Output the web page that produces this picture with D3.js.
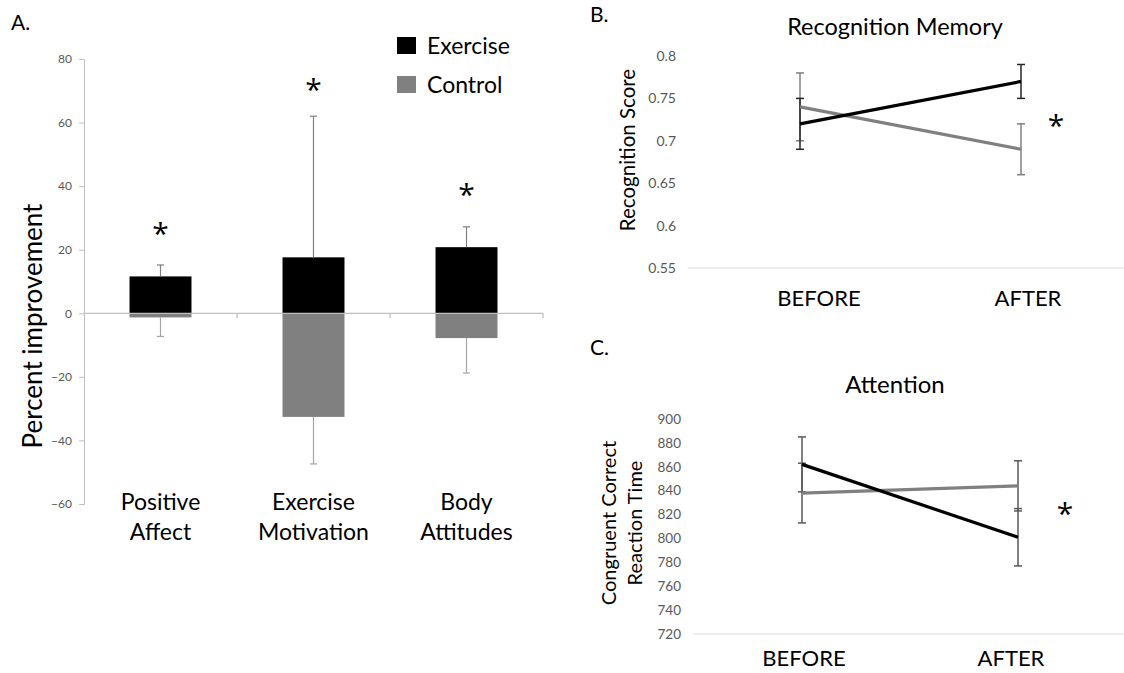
<!DOCTYPE html>
<html>
<head>
<meta charset="utf-8">
<script src="https://cdn.jsdelivr.net/npm/d3@7"></script>
<style>
  html, body { margin: 0; padding: 0; background: #fff; }
  svg { display: block; font-family: Lato, "Open Sans", sans-serif; }
</style>
</head>
<body>
<svg id="chart" width="1124" height="673"></svg>
<script>
// Panel A: percent improvement
const categories = ["Positive Affect", "Exercise Motivation", "Body Attitudes"];
const categoryLines = [["Positive", "Affect"], ["Exercise", "Motivation"], ["Body", "Attitudes"]];
const exerciseImprovement = [11.6, 17.6, 20.8];
const exerciseError = [3.6, 44.4, 6.4];
const controlImprovement = [-1.3, -32.6, -7.8];
const controlError = [6.0, 14.8, 11.0];
const improvementStars = [true, true, true];
const percentTicks = [-60, -40, -20, 0, 20, 40, 60, 80];

// Panel B: recognition memory
const timepoints = ["BEFORE", "AFTER"];
const recognitionExercise = [0.72, 0.77];
const recognitionExerciseErr = [0.03, 0.02];
const recognitionControl = [0.74, 0.69];
const recognitionControlErr = [0.04, 0.03];
const recognitionTicks = [0.55, 0.6, 0.65, 0.7, 0.75, 0.8];

// Panel C: attention
const attentionExercise = [862, 801];
const attentionExerciseErr = [23, 24];
const attentionControl = [838, 844];
const attentionControlErr = [25, 21];
const attentionTicks = [720, 740, 760, 780, 800, 820, 840, 860, 880, 900];

const BLACK = "#000000";
const GREY = "#808080";
const AXIS = "#bfbfbf";
const TICK_TEXT = "#595959";

const svg = d3.select("#chart");

// asterisk centred on (x, y)
function star(x, y, size) {
    svg.append("text")
        .attr("x", x)
        .attr("y", y + size * 0.47)
        .attr("text-anchor", "middle")
        .style("font-family", "'Open Sans', sans-serif")
        .style("font-size", size + "px")
        .style("fill", BLACK)
        .text("*");
}

// ---------- A. bars ----------
const xA = d3.scaleBand().domain(categories).range([84, 543])
    .paddingInner(0.595).paddingOuter(0.2975);
const yA = d3.scaleLinear().domain([-60, 80]).range([504, 59]);

svg.append("text").attr("x", 11).attr("y", 30)
    .style("font-size", "21px").text("A.");

const axA = svg.append("g").attr("transform", "translate(84,0)")
    .call(d3.axisLeft(yA).tickValues(percentTicks).tickSize(5).tickPadding(7));
axA.select(".domain").attr("stroke", AXIS);
axA.selectAll(".tick line").attr("stroke", AXIS);
axA.selectAll(".tick text").attr("fill", TICK_TEXT).style("font-size", "12px")
    .style("font-family", "Lato, sans-serif");

svg.append("text")
    .attr("transform", `translate(42,${yA(-4)}) rotate(-90)`)
    .attr("text-anchor", "middle")
    .style("font-size", "26px")
    .text("Percent improvement");

const barsA = svg.append("g");
categories.forEach((c, i) => {
    const x0 = xA(c);
    const bw = xA.bandwidth();
    const cx = x0 + bw / 2;
    // control (negative) bar
    barsA.append("rect")
        .attr("x", x0).attr("width", bw)
        .attr("y", yA(Math.max(0, controlImprovement[i])))
        .attr("height", Math.abs(yA(controlImprovement[i]) - yA(0)))
        .attr("fill", GREY);
    // exercise bar
    barsA.append("rect")
        .attr("x", x0).attr("width", bw)
        .attr("y", yA(Math.max(0, exerciseImprovement[i])))
        .attr("height", Math.abs(yA(exerciseImprovement[i]) - yA(0)))
        .attr("fill", BLACK);
    // error bars
    const eTop = exerciseImprovement[i] + exerciseError[i];
    const cBot = controlImprovement[i] - controlError[i];
    barsA.append("line").attr("x1", cx).attr("x2", cx)
        .attr("y1", yA(exerciseImprovement[i])).attr("y2", yA(eTop))
        .attr("stroke", GREY).attr("stroke-width", 1.2);
    barsA.append("line").attr("x1", cx - 3.5).attr("x2", cx + 3.5)
        .attr("y1", yA(eTop)).attr("y2", yA(eTop))
        .attr("stroke", GREY).attr("stroke-width", 1.2);
    barsA.append("line").attr("x1", cx).attr("x2", cx)
        .attr("y1", yA(controlImprovement[i])).attr("y2", yA(cBot))
        .attr("stroke", "#a6a6a6").attr("stroke-width", 1.2);
    barsA.append("line").attr("x1", cx - 3.5).attr("x2", cx + 3.5)
        .attr("y1", yA(cBot)).attr("y2", yA(cBot))
        .attr("stroke", "#a6a6a6").attr("stroke-width", 1.2);

    categoryLines[i].forEach((t, k) => {
        svg.append("text")
            .attr("x", cx).attr("y", 510 + k * 30)
            .attr("text-anchor", "middle")
            .style("font-size", "23px")
            .text(t);
    });
});

// zero line with category ticks
svg.append("line")
    .attr("x1", 84).attr("x2", 543)
    .attr("y1", yA(0)).attr("y2", yA(0))
    .attr("stroke", AXIS).attr("stroke-width", 1.3);
const bounds = [xA.range()[0] + xA.step(), xA.range()[0] + 2 * xA.step(), xA.range()[1]];
bounds.forEach(bx => {
    svg.append("line").attr("x1", bx).attr("x2", bx)
        .attr("y1", yA(0)).attr("y2", yA(0) + 5)
        .attr("stroke", AXIS).attr("stroke-width", 1.3);
});

// stars above exercise error bars
const starY = [230, 86, 191];
categories.forEach((c, i) => {
    if (improvementStars[i]) star(xA(c) + xA.bandwidth() / 2, starY[i], 30);
});

// legend
const legendA = svg.append("g").attr("transform", "translate(397,37)");
[["Exercise", BLACK], ["Control", GREY]].forEach(([name, col], i) => {
    legendA.append("rect").attr("x", 0).attr("y", i * 39)
        .attr("width", 19).attr("height", 17).attr("fill", col);
    legendA.append("text").attr("x", 30).attr("y", i * 39 + 17)
        .style("font-size", "23px").text(name);
});

// ---------- line panels ----------
function linePanel(opts) {
    const y = d3.scaleLinear().domain(opts.domain).range(opts.range);
    const x = d3.scalePoint().domain(timepoints).range(opts.pointRange);
    const xl = d3.scalePoint().domain(timepoints).range(opts.labelRange);

    svg.append("text").attr("x", 590).attr("y", opts.letterY)
        .style("font-size", "21px").text(opts.letter);
    svg.append("text").attr("x", 895).attr("y", opts.titleY)
        .attr("text-anchor", "middle").style("font-size", opts.titleSize).text(opts.title);

    const ax = svg.append("g").attr("transform", `translate(${opts.tickRight},0)`)
        .call(d3.axisLeft(y).tickValues(opts.ticks).tickSize(0).tickPadding(0)
            .tickFormat(opts.format));
    ax.select(".domain").remove();
    ax.selectAll(".tick text").attr("fill", TICK_TEXT)
        .style("font-size", opts.tickSize).style("font-family", "Lato, sans-serif");

    svg.append("line")
        .attr("x1", opts.baseStart).attr("x2", 1124)
        .attr("y1", y(opts.domain[0])).attr("y2", y(opts.domain[0]))
        .attr("stroke", "#d9d9d9").attr("stroke-width", 1.2);

    opts.yTitle.forEach((t, k) => {
        svg.append("text")
            .attr("transform", `translate(${opts.yTitleX[k]},${opts.yTitleY}) rotate(-90)`)
            .attr("text-anchor", "middle")
            .style("font-size", opts.yTitleSize)
            .text(t);
    });

    timepoints.forEach(t => {
        svg.append("text").attr("x", xl(t)).attr("y", opts.labelY)
            .attr("text-anchor", "middle").style("font-size", "22px").text(t);
    });

    const line = d3.line().x((d, i) => x(timepoints[i])).y(d => y(d));
    opts.series.forEach(s => {
        s.values.forEach((v, i) => {
            const cx = x(timepoints[i]);
            const lo = v - s.err[i], hi = v + s.err[i];
            const g = svg.append("g").attr("stroke", s.errColor).attr("stroke-width", 1.5);
            g.append("line").attr("x1", cx).attr("x2", cx).attr("y1", y(lo)).attr("y2", y(hi));
            g.append("line").attr("x1", cx - 4).attr("x2", cx + 4).attr("y1", y(lo)).attr("y2", y(lo));
            g.append("line").attr("x1", cx - 4).attr("x2", cx + 4).attr("y1", y(hi)).attr("y2", y(hi));
        });
    });
    opts.series.forEach(s => {
        svg.append("path").datum(s.values)
            .attr("d", line).attr("fill", "none")
            .attr("stroke", s.color).attr("stroke-width", 3.2);
    });
    star(opts.star[0], opts.star[1], 30);
}

linePanel({
    letter: "B.", letterY: 22,
    title: "Recognition Memory", titleY: 35, titleSize: "23.5px",
    domain: [0.55, 0.8], range: [268, 56],
    ticks: recognitionTicks, format: d => String(d), tickSize: "14px",
    tickRight: 676, baseStart: 688,
    pointRange: [800, 1021], labelRange: [819, 1028], labelY: 306,
    yTitle: ["Recognition Score"], yTitleX: [635], yTitleY: 150, yTitleSize: "20.5px",
    series: [
        { values: recognitionControl, err: recognitionControlErr, color: GREY, errColor: GREY },
        { values: recognitionExercise, err: recognitionExerciseErr, color: BLACK, errColor: "#262626" }
    ],
    star: [1056, 122]
});

linePanel({
    letter: "C.", letterY: 355,
    title: "Attention", titleY: 393, titleSize: "24px",
    domain: [720, 900], range: [634, 419],
    ticks: attentionTicks, format: d => String(d), tickSize: "13.5px",
    tickRight: 681, baseStart: 693,
    pointRange: [802, 1018], labelRange: [804, 1011], labelY: 666,
    yTitle: ["Congruent Correct", "Reaction Time"], yTitleX: [616, 642], yTitleY: 523, yTitleSize: "20px",
    series: [
        { values: attentionControl, err: attentionControlErr, color: GREY, errColor: "#595959" },
        { values: attentionExercise, err: attentionExerciseErr, color: BLACK, errColor: "#595959" }
    ],
    star: [1065, 510]
});
</script>
</body>
</html>
